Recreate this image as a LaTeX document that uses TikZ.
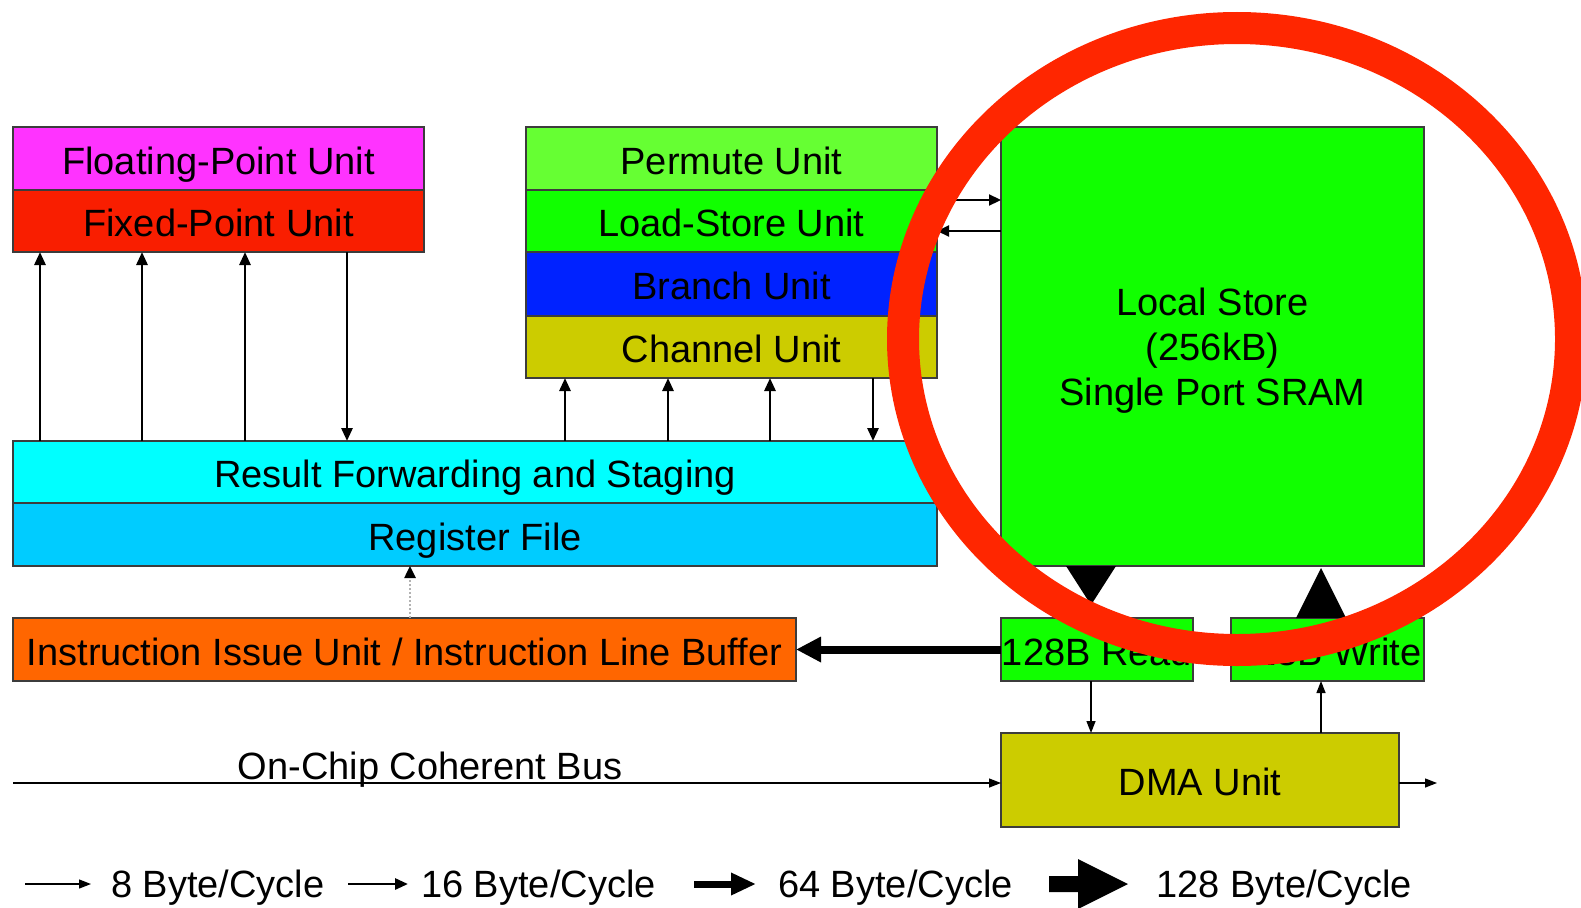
\documentclass[tikz,border=0pt]{standalone}
\usepackage{fontspec}
\setmainfont{Liberation Sans}
\usetikzlibrary{arrows.meta}
\definecolor{boxline}{RGB}{60,60,60}
\definecolor{fpuC}{HTML}{FF33FF}
\definecolor{fxuC}{HTML}{F91E00}
\definecolor{permC}{HTML}{66FF33}
\definecolor{lsuC}{HTML}{11FF00}
\definecolor{bruC}{HTML}{0022FF}
\definecolor{chuC}{HTML}{CCCC00}
\definecolor{rfsC}{HTML}{00FFFF}
\definecolor{regC}{HTML}{00CCFF}
\definecolor{iiuC}{HTML}{FF6600}
\definecolor{circC}{HTML}{FF2600}
\tikzset{
  box/.style={draw=boxline, line width=1.2pt, inner sep=0pt, outer sep=0pt,
    anchor=north west, font=\fontsize{38}{45}\selectfont,
    text height=31pt, text depth=0pt},
  a8/.style={line width=1.3pt, -{Triangle[length=12pt,width=9pt]}},
  a16/.style={line width=2.8pt, -{Triangle[length=13pt,width=11pt]}},
  a64/.style={line width=8pt, -{Triangle[length=25pt,width=24pt]}},
  lbl/.style={inner sep=0pt, font=\fontsize{38}{45}\selectfont},
}
\begin{document}
\begin{tikzpicture}[x=1pt,y=-1pt]
\useasboundingbox (0,0) rectangle (1581,907);
\fill[white] (0,0) rectangle (1581,907);

% left execution units
\node[box, fill=fpuC, minimum width=411pt, minimum height=63pt] (fpu) at (13,127) {Floating-Point Unit};
\node[box, fill=fxuC, minimum width=411pt, minimum height=62pt] (fxu) at (13,190) {Fixed-Point Unit};

% middle units
\node[box, fill=permC, minimum width=411pt, minimum height=63pt] (perm) at (526,127) {Permute Unit};
\node[box, fill=lsuC, minimum width=411pt, minimum height=62pt] (lsu) at (526,190) {Load-Store Unit};
\node[box, fill=bruC, minimum width=411pt, minimum height=64pt] (bru) at (526,252) {Branch Unit};
\node[box, fill=chuC, minimum width=411pt, minimum height=62pt] (chu) at (526,316) {Channel Unit};

% local store
\node[box, fill=lsuC, minimum width=423pt, minimum height=439pt] (ls) at (1001,127) {};
\node[lbl, align=center] (lstext) at ([yshift=-4pt]ls.center) {Local Store\\(256kB)\\Single Port SRAM};

% result / register
\node[box, fill=rfsC, minimum width=924pt, minimum height=62pt] (rfs) at (13,441) {Result Forwarding and Staging};
\node[box, fill=regC, minimum width=924pt, minimum height=63pt] (reg) at (13,503) {Register File};

% instruction unit
\node[box, fill=iiuC, minimum width=783pt, minimum height=63pt] (iiu) at (13,618) {Instruction Issue Unit / Instruction Line Buffer};

% read / write / dma
\node[box, fill=lsuC, minimum width=192pt, minimum height=63pt] (rd) at (1001,618) {128B Read};
\node[box, fill=lsuC, minimum width=193pt, minimum height=63pt] (wr) at (1231,618) {128B Write};
\node[box, fill=chuC, minimum width=398pt, minimum height=94pt] (dma) at (1001,733) {DMA Unit};

% arrows result <-> fixed point
\draw[a16] (40,0 |- rfs.north) -- (40,0 |- fxu.south);
\draw[a16] (142,0 |- rfs.north) -- (142,0 |- fxu.south);
\draw[a16] (245,0 |- rfs.north) -- (245,0 |- fxu.south);
\draw[a16] (347,0 |- fxu.south) -- (347,0 |- rfs.north);

% arrows result <-> channel
\draw[a16] (565,0 |- rfs.north) -- (565,0 |- chu.south);
\draw[a16] (668,0 |- rfs.north) -- (668,0 |- chu.south);
\draw[a16] (770,0 |- rfs.north) -- (770,0 |- chu.south);
\draw[a16] (873,0 |- chu.south) -- (873,0 |- rfs.north);

% load-store <-> local store
\draw[line width=2.2pt, -{Triangle[length=12pt,width=11pt]}] (lsu.east |- 0,200) -- (ls.west |- 0,200);
\draw[line width=2.2pt, -{Triangle[length=12pt,width=11pt]}] (ls.west |- 0,231) -- (lsu.east |- 0,231);

% dotted instruction -> register file
\draw[gray!60, line width=2.5pt, dash pattern=on 2pt off 2pt, -{Triangle[length=12pt,width=11pt,color=black]}] (410,0 |- iiu.north) -- (410,0 |- reg.south);

% read -> instruction buffer (64 B)
\draw[a64] (rd.west) -- (iiu.east);

% 128 B triangles
\fill[black] (1066,0 |- ls.south) -- (1116,0 |- ls.south) -- (1091,605) -- cycle;
\fill[black] (1296,0 |- wr.north) -- (1346,0 |- wr.north) -- (1321,568) -- cycle;

% read -> dma, dma -> write
\draw[a8] (1091,0 |- rd.south) -- (1091,0 |- dma.north);
\draw[a8] (1321,0 |- dma.north) -- (1321,0 |- wr.south);

% bus
\coordinate (busL) at (13,783);
\coordinate (busR) at (1437,783);
\draw[a8] (busL) -- (dma.west |- busL);
\draw[a8] (dma.east |- busL) -- (busR);
\node[lbl, anchor=base] (buslbl) at (430,779) {On-Chip Coherent Bus};

% legend
\coordinate (l1a) at (25,884);  \coordinate (l1b) at (91,884);
\coordinate (l2a) at (348,884); \coordinate (l2b) at (408,884);
\coordinate (l3a) at (694,884); \coordinate (l3b) at (756,884);
\draw[a8] (l1a) -- (l1b);
\draw[a16] (l2a) -- (l2b);
\draw[line width=7pt, -{Triangle[length=25pt,width=21pt]}] (l3a) -- (l3b);
\fill[black] (1049,876) -- (1078,876) -- (1078,859) -- (1128,884) -- (1078,909) -- (1078,892) -- (1049,892) -- cycle;
\node[lbl, anchor=base west] (leg1) at (111,897) {8 Byte/Cycle};
\node[lbl, anchor=base west] (leg2) at (421,897) {16 Byte/Cycle};
\node[lbl, anchor=base west] (leg3) at (778,897) {64 Byte/Cycle};
\node[lbl, anchor=base west] (leg4) at (1156,897) {128 Byte/Cycle};

% red highlight circle
\draw[circC, line width=32pt] (1237,339) ellipse [x radius=334, y radius=311];
\end{tikzpicture}
\end{document}
